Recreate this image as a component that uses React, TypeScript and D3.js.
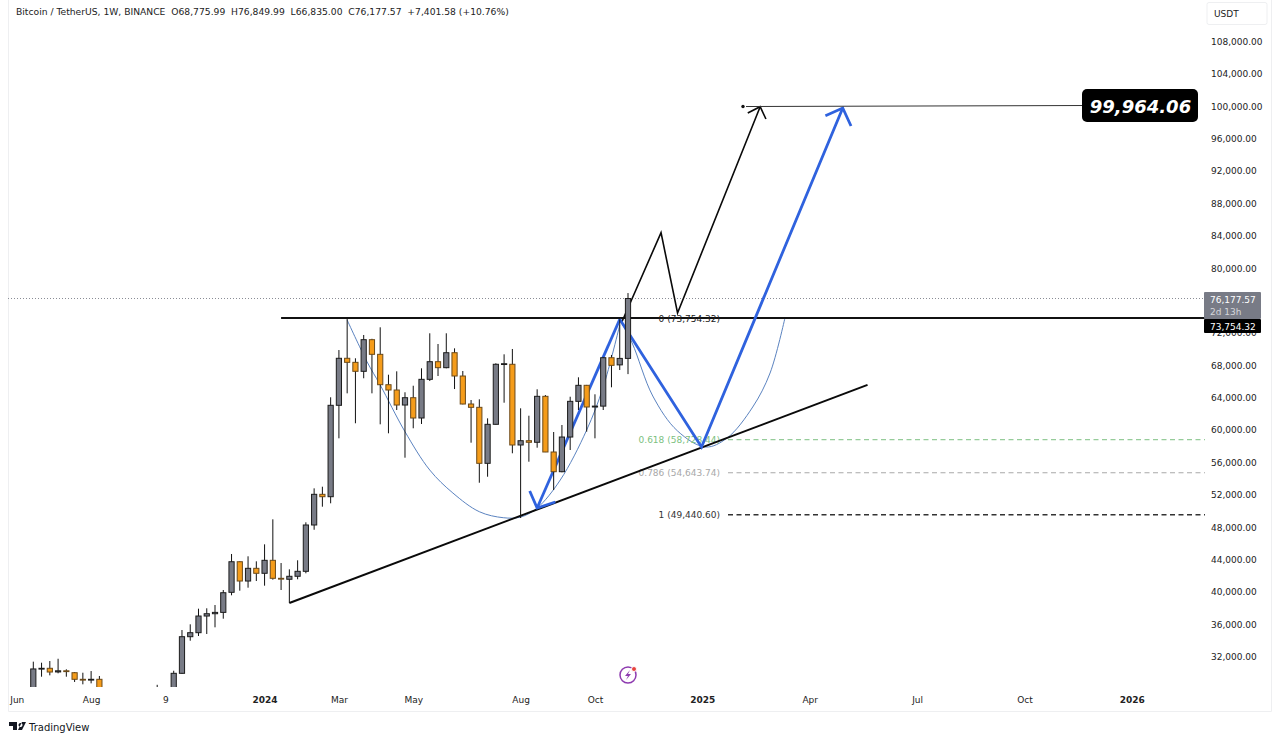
import { useEffect, useRef } from 'react';
import * as d3 from 'd3';

// weekly candles, index 0 = week of 19 Jun 2023, index 72 = week of 4 Nov 2024
const opens = [26340, 30400, 30480, 30030, 30170, 29935, 29120, 29040, 29120, 26100, 26040, 25970, 25830, 26530, 26570, 27990, 27930, 27150, 29860, 34385, 34880, 36940, 37225, 37390, 39870, 43650, 41265, 42835, 42220, 43825, 41600, 41480, 41850, 42465, 48190, 51980, 51685, 62980, 68790, 68290, 67180, 71090, 69280, 65525, 64870, 63015, 63920, 61410, 66190, 68370, 67630, 69480, 66600, 63140, 62730, 55810, 60630, 68050, 68050, 58075, 58605, 58410, 64090, 57210, 54775, 59060, 63470, 65450, 62770, 62880, 68860, 67976, 68775.99];
const highs = [31300, 31170, 31380, 31660, 30355, 30020, 29935, 30140, 29530, 26830, 28000, 26400, 26840, 27480, 28050, 28440, 28000, 30180, 35210, 35915, 37845, 37895, 38300, 40155, 44605, 43700, 44320, 43700, 45800, 48890, 43490, 42710, 43825, 48520, 52720, 52920, 63970, 69810, 73777, 68790, 71670, 71200, 72620, 66760, 67180, 64590, 65400, 67550, 71880, 70555, 71880, 70020, 67220, 63635, 63720, 61370, 68170, 69280, 69940, 62610, 61695, 64960, 64250, 59680, 60545, 64040, 66440, 65500, 64340, 68900, 69200, 73600, 76849.99];
const lows = [26250, 29440, 29610, 29860, 29440, 28790, 28500, 28620, 25170, 25360, 25700, 25330, 24900, 26300, 26000, 27160, 26530, 26600, 29800, 33890, 34470, 34720, 35545, 36610, 39500, 40070, 40440, 41265, 40690, 41430, 40155, 38550, 41480, 42220, 47600, 50450, 50870, 58900, 64460, 60760, 66320, 64460, 60630, 59520, 62400, 56505, 60140, 60670, 65980, 66600, 67550, 64990, 63100, 58360, 53410, 54155, 60600, 63300, 57050, 49050, 56010, 57740, 57200, 52510, 54700, 57455, 62400, 59720, 58900, 62400, 65205, 67340, 66835];
const closes = [30400, 30480, 30020, 30170, 30090, 29120, 29040, 29120, 26100, 26040, 25970, 25830, 26530, 26570, 27990, 27930, 27150, 29860, 34385, 34880, 36940, 37225, 37390, 39820, 43650, 41265, 42835, 42220, 43825, 41600, 41500, 41850, 42465, 48190, 51980, 51685, 62980, 68790, 68290, 67180, 71090, 69280, 65525, 64870, 63015, 63920, 61410, 66190, 68370, 67630, 69480, 66600, 63140, 62730, 55810, 60630, 68050, 68120, 58075, 58605, 58410, 64090, 57210, 54775, 59060, 63470, 65450, 62770, 62880, 68860, 67920, 68775.99, 76177.57];

const priceTicks = [32000, 36000, 40000, 44000, 48000, 52000, 56000, 60000, 64000, 68000, 72000, 76000, 80000, 84000, 88000, 92000, 96000, 100000, 104000, 108000];
const timeTicks = [-2, 7, 16, 28, 37, 46, 59, 68, 81, 94, 107, 120, 133];
const timeLabels = ['Jun', 'Aug', '9', '2024', 'Mar', 'May', 'Aug', 'Oct', '2025', 'Apr', 'Jul', 'Oct', '2026'];
const boldTimeLabels = ['2024', '2025', '2026'];

const fibLevels = [73754.32, 58728.44, 54643.74, 49440.6];
const fibNames = ['0', '0.618', '0.786', '1'];
const fibColors = ['#222', '#7cbf80', '#a8a8a8', '#333'];

const resistanceStartWeek = 30;
const targetPrice = 99964.06;
const lastClose = 76177.57;

// drawings as [week, price]
const trendLine: [number, number][] = [[31, 38550], [101, 65500]];
const cupLeft: [number, number][] = [[38, 73520], [40.4, 68370], [42, 65490], [45, 59720], [48, 54980], [50.8, 52140], [54, 49830], [56.9, 49090], [59, 49170], [61, 50290], [63.8, 53750], [67, 59930], [69, 65240], [71, 72900]];
const cupRight: [number, number][] = [[71, 73600], [72.5, 70680], [75, 64130], [78, 59805], [81.4, 57827], [84, 58940], [87.1, 62770], [89.2, 66970], [91, 73770]];
const blueDown: [number, number][] = [[71, 73600], [61, 50290]];
const blueHeadDown: [number, number][] = [[60.1, 52390], [61, 50290], [63.2, 51030]];
const blueV: [number, number][] = [[71, 73600], [80.9, 57830], [98, 99720]];
const blueHeadUp: [number, number][] = [[95.9, 98770], [98, 99720], [99, 97500]];
const blackPath: [number, number][] = [[71.2, 73150], [76, 84310], [78, 74387], [88, 99881]];
const blackHead: [number, number][] = [[86.5, 99100], [88, 99881], [88.7, 98360]];

export default function App() {
  const svgRef = useRef<SVGSVGElement>(null);

  useEffect(() => {
    if (!svgRef.current) return;

    const svg = d3.select(svgRef.current);
    svg.selectAll('*').remove();

    const font = '"DejaVu Sans", sans-serif';
    const plot = { left: 8, right: 1205, top: 0, bottom: 687 };

    const x = d3.scaleLinear().domain([0, 72]).range([33.3, 628]);
    const y = d3.scaleLinear().domain([32000, 108000]).range([656, 41]);

    svg.append('rect').attr('width', 1280).attr('height', 742).attr('fill', '#fff');

    // panel frame
    svg.append('path')
      .attr('d', 'M8.5,0V711.5H1271.5V0')
      .attr('fill', 'none')
      .attr('stroke', '#eeeff1');

    svg.append('clipPath').attr('id', 'plot')
      .append('rect')
      .attr('x', plot.left)
      .attr('y', plot.top)
      .attr('width', plot.right - plot.left)
      .attr('height', plot.bottom - plot.top);

    const g = svg.append('g').attr('clip-path', 'url(#plot)');

    // last price dotted line
    g.append('line')
      .attr('x1', plot.left).attr('x2', plot.right)
      .attr('y1', y(lastClose)).attr('y2', y(lastClose))
      .attr('stroke', '#8a8d96')
      .attr('stroke-dasharray', '1 2');

    const straight = d3.line<[number, number]>().x((d) => x(d[0])).y((d) => y(d[1]));
    const curved = d3.line<[number, number]>().x((d) => x(d[0])).y((d) => y(d[1])).curve(d3.curveCatmullRom);

    const drawPath = (pts: [number, number][], stroke: string, width: number, curve = false) =>
      g.append('path')
        .attr('d', (curve ? curved : straight)(pts))
        .attr('fill', 'none')
        .attr('stroke', stroke)
        .attr('stroke-width', width)
        .attr('stroke-linejoin', 'miter');

    // cup curves
    drawPath(cupLeft, '#5b83c0', 1, true);
    drawPath(cupRight, '#5b83c0', 1, true);

    // resistance and fib levels
    g.append('line')
      .attr('x1', x(resistanceStartWeek)).attr('x2', plot.right)
      .attr('y1', y(fibLevels[0])).attr('y2', y(fibLevels[0]))
      .attr('stroke', '#111')
      .attr('stroke-width', 2);

    fibLevels.forEach((level, i) => {
      if (i > 0) {
        g.append('line')
          .attr('x1', 728).attr('x2', plot.right)
          .attr('y1', y(level)).attr('y2', y(level))
          .attr('stroke', fibColors[i])
          .attr('stroke-width', i === 3 ? 1.5 : 1)
          .attr('stroke-dasharray', '5 3.5');
      }
      g.append('text')
        .attr('x', 720)
        .attr('y', y(level))
        .attr('dy', '0.4em')
        .attr('text-anchor', 'end')
        .attr('fill', fibColors[i])
        .attr('font-family', font)
        .attr('font-size', 9)
        .text(`${fibNames[i]} (${d3.format(',.2f')(level)})`);
    });

    // trend line and arrows
    drawPath(trendLine, '#0a0a0a', 2);
    drawPath(blackPath, '#0a0a0a', 1.6);
    drawPath(blackHead, '#0a0a0a', 1.6);
    drawPath(blueDown, '#2f62de', 2.8);
    drawPath(blueHeadDown, '#2f62de', 2.8);
    drawPath(blueV, '#2f62de', 2.8);
    drawPath(blueHeadUp, '#2f62de', 2.8);

    // target line
    g.append('line')
      .attr('x1', 746).attr('x2', 1082)
      .attr('y1', y(targetPrice) + 0.5).attr('y2', y(targetPrice) - 0.5)
      .attr('stroke', '#333')
      .attr('stroke-width', 1);
    g.append('circle').attr('cx', 743).attr('cy', y(targetPrice) + 0.5).attr('r', 1.7).attr('fill', '#111');

    // candles sit above the drawings
    const candles = opens.map((o, i) => ({ i, o, h: highs[i], l: lows[i], c: closes[i] }));
    const candle = g.selectAll('g.candle').data(candles).enter().append('g').attr('class', 'candle');

    candle.append('line')
      .attr('x1', (d) => x(d.i)).attr('x2', (d) => x(d.i))
      .attr('y1', (d) => y(d.h)).attr('y2', (d) => y(d.l))
      .attr('stroke', '#111')
      .attr('stroke-width', 1);

    candle.append('rect')
      .attr('x', (d) => x(d.i) - 2.6)
      .attr('width', 5.2)
      .attr('y', (d) => y(Math.max(d.o, d.c)))
      .attr('height', (d) => Math.max(0.8, Math.abs(y(d.o) - y(d.c))))
      .attr('fill', (d) => (d.c >= d.o ? '#787b86' : '#f59c1a'))
      .attr('stroke', (d) => (d.c >= d.o ? '#1c1c1c' : '#6b4a1a'))
      .attr('stroke-width', 1);

    // price axis
    const yAxis = d3.axisRight(y).tickValues(priceTicks).tickSize(0).tickFormat((d) => d3.format(',.2f')(d as number));
    const yG = svg.append('g').attr('transform', 'translate(1208,0.6)').call(yAxis);
    yG.select('.domain').remove();
    yG.selectAll('text').attr('fill', '#222').attr('font-family', font).attr('font-size', 9).attr('x', 3);

    // time axis
    const xAxis = d3.axisBottom(x).tickValues(timeTicks).tickSize(0).tickFormat((_, i) => timeLabels[i]);
    const xG = svg.append('g').attr('transform', 'translate(0,694)').call(xAxis);
    xG.select('.domain').remove();
    xG.selectAll('text')
      .attr('fill', '#222')
      .attr('font-family', font)
      .attr('font-size', 9)
      .attr('font-weight', (_, i) => (boldTimeLabels.includes(timeLabels[i]) ? 700 : 400));

    // USDT box
    svg.append('rect')
      .attr('x', 1207).attr('y', 2.5).attr('width', 60).attr('height', 22).attr('rx', 2)
      .attr('fill', '#fff').attr('stroke', '#eeeff1');
    svg.append('text').attr('x', 1214).attr('y', 17).attr('font-family', font).attr('font-size', 9).attr('fill', '#222').text('USDT');

    // last price labels
    svg.append('rect').attr('x', 1204).attr('y', 292).attr('width', 57).attr('height', 27).attr('rx', 1).attr('fill', '#787b86');
    svg.append('text').attr('x', 1210).attr('y', 302.5).attr('font-family', font).attr('font-size', 9).attr('fill', '#fff').text(d3.format(',.2f')(lastClose));
    svg.append('text').attr('x', 1210).attr('y', 314.5).attr('font-family', font).attr('font-size', 9).attr('fill', '#d5d6da').text('2d 13h');
    svg.append('rect').attr('x', 1204).attr('y', 319).attr('width', 57).attr('height', 14).attr('rx', 1).attr('fill', '#000');
    svg.append('text').attr('x', 1210).attr('y', 329.5).attr('font-family', font).attr('font-size', 9).attr('fill', '#fff').text(d3.format(',.2f')(fibLevels[0]));

    // target badge
    svg.append('rect').attr('x', 1082).attr('y', 89).attr('width', 116).attr('height', 33).attr('rx', 5).attr('fill', '#000');
    svg.append('text')
      .attr('x', 1140.5).attr('y', 112.5)
      .attr('text-anchor', 'middle')
      .attr('font-family', font)
      .attr('font-size', 18)
      .attr('font-weight', 700)
      .attr('font-style', 'italic')
      .attr('fill', '#fff')
      .text(d3.format(',.2f')(targetPrice));

    // header
    svg.append('text').attr('x', 16).attr('y', 15).attr('font-family', font).attr('font-size', 9.2).attr('fill', '#222').attr('xml:space', 'preserve')
      .text('Bitcoin / TetherUS, 1W, BINANCE  O68,775.99  H76,849.99  L66,835.00  C76,177.57  +7,401.58 (+10.76%)');

    // lightning badge
    const badge = svg.append('g').attr('transform', 'translate(628,675)');
    badge.append('circle').attr('r', 8).attr('fill', 'none').attr('stroke', '#8e3bb0').attr('stroke-width', 1.5);
    badge.append('path').attr('d', 'M2,-5L-3,1H0L-2,5L3,-1H0Z').attr('fill', '#8e3bb0');
    badge.append('circle').attr('cx', 6).attr('cy', -6).attr('r', 2.5).attr('fill', '#e8413c').attr('stroke', '#fff');

    // logo
    svg.append('path').attr('d', 'M9,722H17V730H13V726H9ZM18.5,725A2,2 0 1 0 18.5,724.9ZM22,722H26L22,730H18Z').attr('fill', '#131722');
    svg.append('text').attr('x', 29).attr('y', 731).attr('font-family', font).attr('font-size', 10).attr('fill', '#131722').text('TradingView');
  }, []);

  return <svg ref={svgRef} width={1280} height={742} style={{ position: 'absolute', left: 0, top: 0 }} />;
}
